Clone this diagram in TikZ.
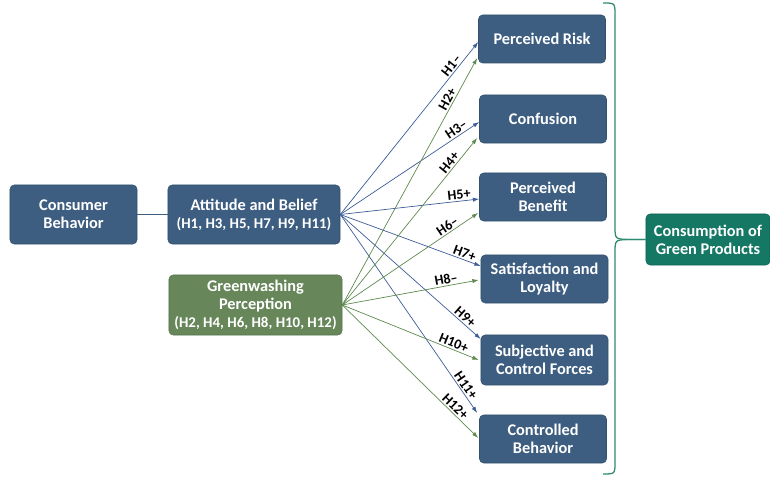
\documentclass[tikz,border=0pt]{standalone}
\usepackage{fontspec}
\setmainfont{Carlito}
\usetikzlibrary{arrows.meta,calc}

\definecolor{boxblue}{HTML}{3D5E80}
\definecolor{boxgreen}{HTML}{67875A}
\definecolor{boxteal}{HTML}{147864}
\definecolor{lineblue}{HTML}{3D5C98}
\definecolor{linegreen}{HTML}{5E8A4E}
\definecolor{braceteal}{HTML}{2E8A70}

\newcommand{\hlist}[1]{{\fontsize{10.6}{12.8}\selectfont #1}}

\begin{document}
\begin{tikzpicture}[x=0.025cm, y=-0.025cm]
        % Common styles
        \tikzstyle{box}=[rounded corners=3pt, fill=boxblue, draw=boxblue!85!black, text=white, font=\bfseries\fontsize{11.6}{12.8}\selectfont, align=center, inner sep=1pt, minimum width=3.175cm, minimum height=1.2cm]
        \tikzstyle{blueline}=[-{Latex[length=4.5pt,width=3pt]}, lineblue, line width=0.5pt]
        \tikzstyle{greenline}=[-{Latex[length=4.5pt,width=3pt]}, linegreen, line width=0.5pt]
        \tikzstyle{hyp}=[font=\bfseries\fontsize{10}{11}\selectfont, text=black, sloped, above, inner sep=1pt]

        \useasboundingbox (0,0) rectangle (770,477);

        % --- Left side: sources ---
        \node[box, minimum height=1.475cm] (consumer) at (73.5,214.5) {Consumer\\Behavior};
        \node[box, minimum width=4.3cm, minimum height=1.475cm] (attitude) at (254,214.5) {Attitude and Belief\\\hlist{(H1, H3, H5, H7, H9, H11)}};
        \node[box, fill=boxgreen, draw=boxgreen!85!black, minimum width=4.325cm, minimum height=1.5cm] (greenwash) at (255.5,305) {Greenwashing\\Perception\\\hlist{(H2, H4, H6, H8, H10, H12)}};
        \draw[boxblue, line width=1.2pt] (consumer) -- (attitude);

        % --- Right side: outcomes ---
        \node[box] (risk) at (542,39) {Perceived Risk};
        \node[box] (confusion) at (543,119) {Confusion};
        \node[box] (benefit) at (543,197) {Perceived\\Benefit};
        \node[box] (satisfaction) at (544.5,279) {Satisfaction and\\Loyalty};
        \node[box, minimum height=1.25cm] (subjective) at (544.5,360) {Subjective and\\Control Forces};
        \node[box] (controlled) at (543,439) {Controlled\\Behavior};

        % Consumption (right edge)
        \node[box, fill=boxteal, draw=boxteal!85!black, minimum width=3.1cm, minimum height=1.275cm] (consumption) at (708,239.5) {Consumption of\\Green Products};

        % --- Hypotheses: attitude and belief ---
        \draw[blueline] (attitude.east) -- node[hyp, pos=0.84] {H1--} ($(risk.west)+(0,3)$);
        \draw[blueline] (attitude.east) -- node[hyp, pos=0.86] {H3--} ($(confusion.west)+(0,3)$);
        \draw[blueline] (attitude.east) -- node[hyp, pos=0.86] {H5+} ($(benefit.west)+(0,2)$);
        \draw[blueline] (attitude.east) -- node[hyp, pos=0.87] {H7+} ($(satisfaction.west)+(0,-13)$);
        \draw[blueline] (attitude.east) -- node[hyp, pos=0.86] {H9+} ($(subjective.west)+(0,-21)$);
        \draw[blueline] (attitude.east) -- node[hyp, pos=0.88] {H11+} ($(controlled.west)+(-2,-26)$);

        % --- Hypotheses: greenwashing perception ---
        \draw[greenline] (greenwash.east) -- node[hyp, pos=0.82] {H2+} ($(risk.west)+(-1,19)$);
        \draw[greenline] (greenwash.east) -- node[hyp, pos=0.83] {H4+} ($(confusion.west)+(-2,19)$);
        \draw[greenline] (greenwash.east) -- node[hyp, pos=0.8] {H6--} ($(benefit.west)+(-1,16)$);
        \draw[greenline] (greenwash.east) -- node[hyp, pos=0.77] {H8--} ($(satisfaction.west)+(-2,1)$);
        \draw[greenline] (greenwash.east) -- node[hyp, pos=0.8] {H10+} ($(subjective.west)+(-2,0)$);
        \draw[greenline] (greenwash.east) -- node[hyp, pos=0.8] {H12+} ($(controlled.west)+(-1,-1)$);

        % Brace to consumption
        \draw[braceteal, line width=0.9pt] (603,3) .. controls (615,3) .. (615,15) -- (615,226) .. controls (615,239) .. (628,239.5) -- (consumption.west);
        \draw[braceteal, line width=0.9pt] (consumption.west) -- (628,239.5) .. controls (615,240) .. (615,253) -- (615,462) .. controls (615,474) .. (603,474);

    \end{tikzpicture}
\end{document}
